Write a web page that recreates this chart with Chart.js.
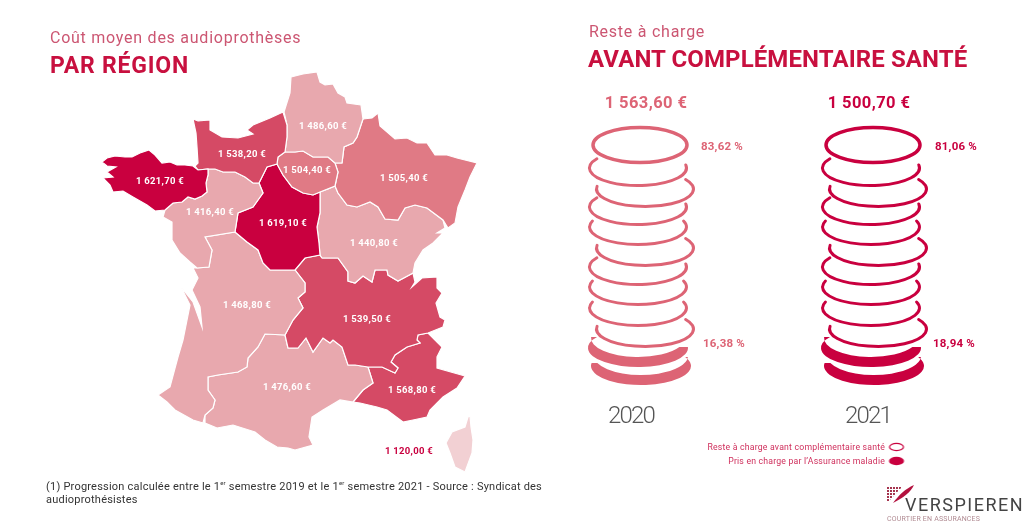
<!DOCTYPE html>
<html lang="fr">
<head>
<meta charset="utf-8">
<title>Coût moyen des audioprothèses</title>
<script src="https://cdn.jsdelivr.net/npm/chart.js@4/dist/chart.umd.min.js"></script>
<style>
  html, body { margin: 0; padding: 0; background: #fff; }
  #page { position: relative; width: 1024px; height: 526px; overflow: hidden; font-family: Roboto, sans-serif; }
  #page canvas { position: absolute; left: 0; top: 0; }
  .t { position: absolute; white-space: nowrap; line-height: 1; }
  .sub { font-size: 16px; color: #cc5672; letter-spacing: .75px; }
  .big { font-weight: 700; color: #c8103f; }
  sup { font-size: 6px; line-height: 0; }
  #note { left: 46px; top: 480px; font-size: 11px; line-height: 13px; color: #333; letter-spacing: .22px; }
  #logo { position: absolute; left: 880px; top: 480px; }
</style>
</head>
<body>
<div id="page">
  <canvas id="myChart" width="1024" height="526"></canvas>
  <div class="t sub" style="left:50px;top:30px">Coût moyen des audioprothèses</div>
  <div class="t big" style="left:50px;top:54px;font-size:23px;letter-spacing:.8px">PAR RÉGION</div>
  <div class="t sub" style="left:589px;top:24px">Reste à charge</div>
  <div class="t big" style="left:588px;top:47px;font-size:24px;letter-spacing:.1px">AVANT COMPLÉMENTAIRE SANTÉ</div>
  <div class="t" id="note">(1) Progression calculée entre le 1<sup>er</sup> semestre 2019 et le 1<sup>er</sup> semestre 2021 - Source : Syndicat des<br>audioprothésistes</div>
  <svg id="logo" width="144" height="46" viewBox="880 480 144 46">
    <defs>
      <pattern id="dots" x="887" y="487" width="3" height="3" patternUnits="userSpaceOnUse">
        <rect width="2" height="2" fill="#a5344e"></rect>
      </pattern>
    </defs>
    <polygon points="887,487 902,487 888,502 887,502" fill="url(#dots)"></polygon>
    <path d="M893,503 C899,495 905,489 914,485 C911,492 903,498 893,503 Z" fill="#b3123f"></path>
    <text x="905" y="511" font-family="Roboto" font-size="18" letter-spacing="1.5" fill="#444">VERSPIEREN</text>
    <text x="887" y="521" font-family="Roboto" font-size="7" letter-spacing=".2" fill="#b08a92">COURTIER EN ASSURANCES</text>
  </svg>
</div>

<script>
// MAP OUTLINES (in picture units)
var outlineBretagne = [[102,162],[107,158],[115,156],[125,157],[132,157],[140,153],[149,150],[155,155],[162,163],[170,162],[177,165],[185,165],[193,166],[198,170],[208,169],[208,175],[206,183],[207,192],[202,196],[195,199],[188,197],[182,202],[173,203],[165,210],[155,211],[147,205],[133,197],[123,191],[113,192],[110,185],[103,178],[113,177],[107,172],[116,167],[107,166]]
var outlineNormandie = [[193,119],[198,121],[210,120],[210,130],[222,137],[238,138],[253,134],[247,130],[253,125],[270,118],[283,112],[287,125],[287,137],[285,152],[278,157],[277,164],[267,167],[259,183],[253,183],[245,177],[235,172],[223,172],[215,169],[208,169],[198,170],[195,166],[198,163],[197,147],[196,133]]
var outlineHauts = [[291,77],[303,74],[317,72],[320,82],[325,85],[333,84],[338,93],[345,97],[347,103],[361,105],[363,119],[357,137],[353,143],[344,147],[342,163],[335,163],[328,157],[313,157],[303,151],[295,152],[285,152],[287,137],[287,125],[284,112],[290,93]]
var outlineIdf = [[285,152],[295,152],[303,151],[313,157],[328,157],[335,163],[338,172],[335,186],[320,192],[313,195],[303,193],[292,187],[283,175],[277,164],[278,157]]
var outlineGrandEst = [[363,119],[372,118],[378,113],[380,126],[395,139],[407,138],[417,143],[427,143],[435,155],[447,155],[457,158],[477,163],[470,177],[465,190],[458,207],[455,223],[448,228],[443,220],[427,208],[415,205],[405,208],[398,220],[385,219],[378,207],[370,202],[357,207],[347,205],[338,193],[335,186],[338,172],[335,163],[342,163],[344,147],[353,143],[357,137]]
var outlineBourgogne = [[320,192],[328,189],[335,186],[338,193],[347,205],[357,207],[370,202],[378,207],[385,219],[398,220],[405,208],[415,205],[427,208],[443,220],[445,228],[437,233],[443,233],[433,243],[423,250],[415,263],[413,273],[398,281],[388,275],[387,270],[375,270],[372,282],[363,276],[355,283],[348,281],[348,272],[338,258],[322,258],[320,255],[319,243],[317,227],[320,213],[320,200]]
var outlineCentre = [[259,183],[267,167],[277,164],[283,175],[292,187],[303,193],[313,195],[320,192],[320,200],[320,213],[317,227],[319,243],[320,255],[305,258],[295,270],[270,270],[263,263],[258,250],[247,242],[235,232],[238,213],[253,207],[263,193]]
var outlineLoire = [[208,169],[215,169],[223,172],[235,172],[245,177],[253,183],[259,183],[263,193],[253,207],[238,213],[235,232],[205,237],[212,250],[209,267],[197,268],[190,262],[180,253],[172,240],[172,230],[172,222],[163,217],[165,210],[173,203],[182,202],[188,197],[195,199],[202,196],[207,192],[206,183],[208,175]]
var outlineAquitaine = [[197,268],[209,267],[212,250],[205,237],[235,232],[247,242],[258,250],[263,263],[270,270],[295,270],[305,283],[305,292],[298,298],[303,308],[293,320],[285,335],[265,334],[258,347],[248,358],[247,367],[238,372],[218,375],[208,377],[208,390],[215,400],[213,408],[205,415],[203,423],[193,420],[175,410],[167,402],[158,395],[170,387],[178,357],[183,340],[190,305],[181,287],[193,302],[202,327],[200,307],[192,290],[198,278],[193,268]]
var outlineOccitanie = [[265,334],[285,335],[288,348],[298,348],[306,338],[313,352],[323,338],[330,343],[333,340],[342,347],[348,365],[355,365],[368,367],[373,383],[363,390],[353,402],[340,400],[323,410],[312,417],[309,437],[313,445],[295,450],[288,448],[277,447],[265,440],[255,432],[233,425],[217,428],[205,423],[205,415],[213,408],[215,400],[208,390],[208,377],[218,375],[238,372],[247,367],[248,358],[258,347]]
var outlineAuvergne = [[322,258],[338,258],[348,272],[348,281],[355,283],[363,276],[372,282],[375,270],[387,270],[388,275],[398,281],[413,273],[415,282],[412,287],[422,278],[437,277],[437,288],[442,293],[436,303],[440,317],[445,320],[443,327],[428,333],[418,335],[417,340],[420,343],[407,347],[395,355],[391,362],[398,368],[395,373],[382,367],[368,367],[355,365],[348,365],[342,347],[333,340],[330,343],[323,338],[313,352],[306,338],[298,348],[288,348],[285,335],[293,320],[303,308],[298,298],[305,292],[305,283],[295,270],[305,258],[320,255]]
var outlinePaca = [[428,333],[435,340],[442,347],[437,357],[437,368],[465,376],[457,388],[443,397],[430,410],[427,417],[413,420],[403,422],[387,410],[377,407],[360,403],[353,402],[363,390],[373,383],[368,367],[382,367],[395,373],[398,368],[391,362],[395,355],[407,347],[420,343],[417,340],[418,335]]
var outlineCorse = [[470,416],[471,427],[473,440],[472,453],[465,472],[455,467],[450,453],[446,443],[452,432],[465,427],[468,417]]

var regionOutlines = [outlineBretagne, outlineNormandie, outlineHauts, outlineIdf, outlineGrandEst, outlineLoire, outlineCentre, outlineBourgogne, outlineAquitaine, outlineAuvergne, outlineOccitanie, outlinePaca, outlineCorse]
var regionValues = ['1 621,70 €', '1 538,20 €', '1 486,60 €', '1 504,40 €', '1 505,40 €', '1 416,40 €', '1 619,10 €', '1 440,80 €', '1 468,80 €', '1 539,50 €', '1 476,60 €', '1 568,80 €', '1 120,00 €']
var regionLabelX = [160, 242, 323, 307, 404, 210, 283, 374, 247, 367, 287, 412, 409]
var regionLabelY = [181, 154, 126, 170, 178, 212, 223, 243, 305, 319, 387, 390, 451]
var regionColors = ['#c9003f', '#d54a65', '#e8a8ae', '#e07a85', '#e07a85', '#e8a8ae', '#c9003f', '#e8a8ae', '#e8a8ae', '#d54a65', '#e8a8ae', '#d54a65', '#f2d0d3']

// COIN STACKS
var coinKinds = ['ring', 'left', 'right', 'left', 'mid', 'right', 'left', 'mid', 'mid', 'right', 'fillLeft', 'fillRight']
var coinX2020 = [640, 638, 645, 638, 638, 645, 638, 638, 638, 645, 638, 641]
var coinX2021 = [873, 871, 878, 871, 871, 878, 871, 871, 871, 878, 871, 874]
var coinY = [145, 168, 189, 207, 227, 248, 267, 287, 308, 329, 348, 366]

var totals = ['1 563,60 €', '1 500,70 €']
var totalX = [646, 869]
var years = ['2020', '2021']
var yearX = [631, 868]
var shares = ['83,62 %', '16,38 %', '81,06 %', '18,94 %']
var shareX = [722, 724, 956, 954]
var shareY = [146, 343, 146, 343]
var legendLabels = ['Reste à charge avant complémentaire santé', 'Pris en charge par l’Assurance maladie']
var legendY = [447, 461]

var color2020 = '#dd6475'
var color2021 = '#c9003f'

// stamps used as pointStyle for the coins
var arcAngles = { left: [32, 10], mid: [20, 20], right: [9, 33], fillLeft: [35, 3], fillRight: [9, 28] }

function coinStamp(kind, color) {
    var c = document.createElement('canvas')
    c.width = 120
    c.height = 60
    var ctx = c.getContext('2d')
    ctx.strokeStyle = color
    ctx.fillStyle = color
    ctx.lineWidth = 3
    ctx.lineCap = 'round'
    if (kind == 'ring') {
        ctx.lineWidth = 3.5
        ctx.beginPath()
        ctx.ellipse(60, 30, 47, 17.5, 0, 0, Math.PI * 2)
        ctx.stroke()
        return c
    }
    var aL = arcAngles[kind][0] * Math.PI / 180
    var aR = arcAngles[kind][1] * Math.PI / 180
    ctx.beginPath()
    if (kind.indexOf('fill') == 0) {
        ctx.ellipse(60, 30, 50, 19, 0, -aR, Math.PI + aL)
        var sL = (10 - 19 * Math.sin(aL)) / 19
        var sR = (10 - 19 * Math.sin(aR)) / 19
        ctx.ellipse(60, 20, 47, 19, 0, Math.PI - Math.asin(sL), Math.asin(sR), true)
        ctx.closePath()
        ctx.fill()
    } else {
        ctx.ellipse(60, 30, 48.5, 17.5, 0, -aR, Math.PI + aL)
        ctx.stroke()
    }
    return c
}

function legendStamp(filled) {
    var c = document.createElement('canvas')
    c.width = 20
    c.height = 12
    var ctx = c.getContext('2d')
    ctx.beginPath()
    ctx.ellipse(10, 6, 7, 3.6, 0, 0, Math.PI * 2)
    ctx.strokeStyle = color2021
    ctx.fillStyle = color2021
    ctx.lineWidth = 1.2
    if (filled) ctx.fill()
    ctx.stroke()
    return c
}

var stamps2020 = coinKinds.map(function (k) { return coinStamp(k, color2020) })
var stamps2021 = coinKinds.map(function (k) { return coinStamp(k, color2021) })
var legendStamps = [legendStamp(false), legendStamp(true)]

function toPoints(xs, ys) {
    return xs.map(function (x, i) { return { x: x, y: ys[i] } })
}

var datasets = regionOutlines.map(function (outline, i) {
    var closed = outline.concat([outline[0]])
    return {
        data: closed.map(function (p) { return { x: p[0], y: p[1] } }),
        showLine: true,
        fill: 'shape',
        backgroundColor: regionColors[i],
        borderColor: '#fff',
        borderWidth: 1.2,
        pointRadius: 0,
        tension: 0
    }
})

datasets.push({ data: toPoints(coinX2020, coinY), pointStyle: stamps2020, pointRadius: 10, showLine: false })
datasets.push({ data: toPoints(coinX2021, coinY), pointStyle: stamps2021, pointRadius: 10, showLine: false })
datasets.push({ data: toPoints([896.5, 896.5], legendY), pointStyle: legendStamps, pointRadius: 6, showLine: false })

// text that sits on the chart, placed through the scales
var chartTexts = {
    id: 'chartTexts',
    afterDatasetsDraw: function (chart) {
        var ctx = chart.ctx
        var sx = chart.scales.x
        var sy = chart.scales.y
        function put(txt, x, y, font, color, align, spacing) {
            ctx.font = font
            ctx.fillStyle = color
            ctx.textAlign = align
            ctx.textBaseline = 'middle'
            ctx.letterSpacing = spacing
            ctx.fillText(txt, sx.getPixelForValue(x), sy.getPixelForValue(y) + 1)
        }
        ctx.save()
        regionValues.forEach(function (v, i) {
            var col = i == 12 ? '#c9003f' : '#fff'
            put(v, regionLabelX[i], regionLabelY[i], '700 9.5px Roboto', col, 'center', '0.3px')
        })
        totals.forEach(function (v, i) {
            put(v, totalX[i], 103, '700 16.5px Roboto', i == 0 ? color2020 : color2021, 'center', '0.4px')
        })
        years.forEach(function (v, i) {
            put(v, yearX[i], 416, '300 24px Roboto', '#555', 'center', '-1.8px')
        })
        shares.forEach(function (v, i) {
            put(v, shareX[i], shareY[i], '700 11.5px Roboto', i < 2 ? color2020 : color2021, 'center', '0.2px')
        })
        legendLabels.forEach(function (v, i) {
            put(v, 885, legendY[i], '400 8.7px Roboto', '#cf2f5c', 'right', '0.2px')
        })
        ctx.restore()
    }
}

new Chart('myChart', {
    type: 'scatter',
    data: { datasets: datasets },
    plugins: [chartTexts],
    options: {
        responsive: false,
        animation: false,
        events: [],
        layout: { padding: 0, autoPadding: false },
        plugins: { legend: { display: false }, tooltip: { enabled: false } },
        scales: {
            x: { type: 'linear', display: false, min: 0, max: 1024 },
            y: { type: 'linear', display: false, min: 0, max: 526, reverse: true }
        }
    }
})
</script>
</body>
</html>
